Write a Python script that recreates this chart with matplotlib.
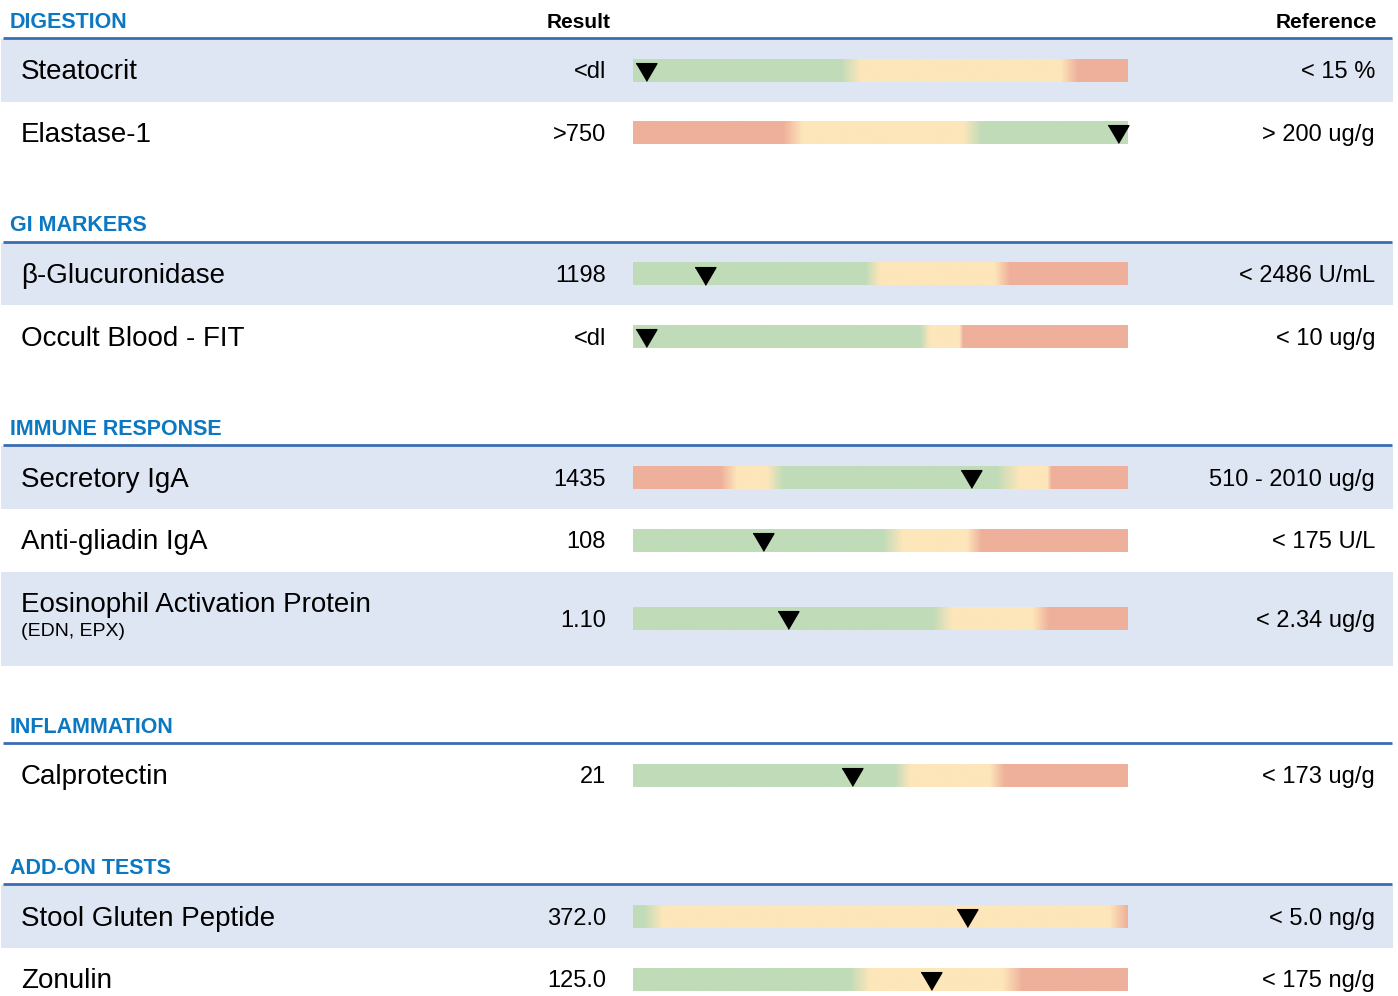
import numpy as np
import matplotlib
matplotlib.use("Agg")
from matplotlib import pyplot as plt
from matplotlib.colors import to_rgb

plt.rcParams['font.family'] = ['Liberation Sans', 'DejaVu Sans']

# ---- data ----
sections = ["DIGESTION", "GI MARKERS", "IMMUNE RESPONSE", "INFLAMMATION", "ADD-ON TESTS"]
section_sizes = [2, 2, 3, 1, 2]
tests = ["Steatocrit", "Elastase-1", "\u03b2-Glucuronidase", "Occult Blood - FIT",
         "Secretory IgA", "Anti-gliadin IgA", "Eosinophil Activation Protein",
         "Calprotectin", "Stool Gluten Peptide", "Zonulin"]
sublabels = ["", "", "", "", "", "", "(EDN, EPX)", "", "", ""]
results = ["<dl", ">750", "1198", "<dl", "1435", "108", "1.10", "21", "372.0", "125.0"]
references = ["< 15 %", "> 200 ug/g", "< 2486 U/mL", "< 10 ug/g", "510 - 2010 ug/g",
              "< 175 U/L", "< 2.34 ug/g", "< 173 ug/g", "< 5.0 ng/g", "< 175 ng/g"]
# marker position along the bar, 0-100
marker_pct = [2.6, 98.0, 14.5, 2.6, 68.3, 26.3, 31.3, 44.2, 67.5, 60.2]
# colour zones: (position 0-100, zone) stops, linear blend between stops
zones = [
    [(0, "g"), (42, "g"), (46, "y"), (86.5, "y"), (90, "r"), (100, "r")],
    [(0, "r"), (30.3, "r"), (34.3, "y"), (66.7, "y"), (70.5, "g"), (100, "g")],
    [(0, "g"), (46.9, "g"), (49.9, "y"), (73.1, "y"), (76.2, "r"), (100, "r")],
    [(0, "g"), (58, "g"), (60, "y"), (66, "y"), (66.7, "r"), (100, "r")],
    [(0, "r"), (17.6, "r"), (21, "y"), (27.1, "y"), (30.3, "g"), (73.5, "g"),
     (78.2, "y"), (83.8, "y"), (84.6, "r"), (100, "r")],
    [(0, "g"), (50.5, "g"), (54.5, "y"), (67.5, "y"), (70.5, "r"), (100, "r")],
    [(0, "g"), (60.6, "g"), (64.6, "y"), (80.8, "y"), (84.2, "r"), (100, "r")],
    [(0, "g"), (52.9, "g"), (56, "y"), (72.1, "y"), (75.2, "r"), (100, "r")],
    [(0, "g"), (2, "g"), (6, "y"), (96.4, "y"), (100, "r")],
    [(0, "g"), (43.8, "g"), (47.9, "y"), (74.7, "y"), (78.8, "r"), (100, "r")],
]

zone_colors = {"g": "#c0dbb8", "y": "#fde6ba", "r": "#eeb09b"}
blue = "#0b78c1"
line_blue = "#3b6db2"
shade = "#dfe6f3"

# ---- layout (pixels) ----
W, H = 1398, 996
bar_x0, bar_x1 = 633, 1128
bar_h = 23
row_h = 62.6
tall_h = 94
dy = 2  # text nudge so glyphs sit on the row centre


def bar_image(stops, n=500):
    pos = np.array([s[0] for s in stops], dtype=float)
    cols = np.array([to_rgb(zone_colors[s[1]]) for s in stops])
    xs = np.linspace(0, 100, n)
    img = np.stack([np.interp(xs, pos, cols[:, k]) for k in range(3)], axis=-1)
    return img[np.newaxis, :, :]


fig = plt.figure(figsize=(W / 100, H / 100), dpi=100)
ax = fig.add_axes([0, 0, 1, 1])
ax.set_xlim(0, W)
ax.set_ylim(H, 0)
ax.axis("off")

y = 20
i = 0
for s, (name, size) in enumerate(zip(sections, section_sizes)):
    ax.text(10, y + dy, name, color=blue, fontsize=15.5, fontweight="bold", va="center", ha="left")
    if s == 0:
        ax.text(579, y + dy, "Result", fontsize=15, fontweight="bold", va="center", ha="center")
        ax.text(1377, y + dy, "Reference", fontsize=15, fontweight="bold", va="center", ha="right")
    ax.plot([3, 1392], [y + 18, y + 18], color=line_blue, lw=2, solid_capstyle="butt")
    top = y + 19
    for k in range(size):
        h = tall_h if sublabels[i] else row_h
        yc = top + h / 2
        # shading alternates over the whole list, not per section
        if i % 2 == 0:
            ax.fill_between([1, 1393], top, top + h, color=shade, lw=0, zorder=0)
        if sublabels[i]:
            ax.text(21, yc - 16 + dy, tests[i], fontsize=20, va="center", ha="left")
            ax.text(21, yc + 11 + dy, sublabels[i], fontsize=14, va="center", ha="left")
        else:
            ax.text(21, yc + dy, tests[i], fontsize=20, va="center", ha="left")
        ax.text(606, yc + dy, results[i], fontsize=17, va="center", ha="right")
        ax.text(1375, yc + dy, references[i], fontsize=17, va="center", ha="right")
        ax.imshow(bar_image(zones[i]), extent=(bar_x0, bar_x1, yc + bar_h / 2, yc - bar_h / 2),
                  aspect="auto", interpolation="bilinear", zorder=2)
        mx = bar_x0 + marker_pct[i] / 100 * (bar_x1 - bar_x0)
        ax.plot(mx, yc + 1.5, marker=[(-1, 0.85), (1, 0.85), (0, -0.85)], ms=15,
                color="black", zorder=3)
        top += h
        i += 1
    y = top + 59.5

ax.set_xlim(0, W)
ax.set_ylim(H, 0)
fig.savefig("out.png", dpi=100)
